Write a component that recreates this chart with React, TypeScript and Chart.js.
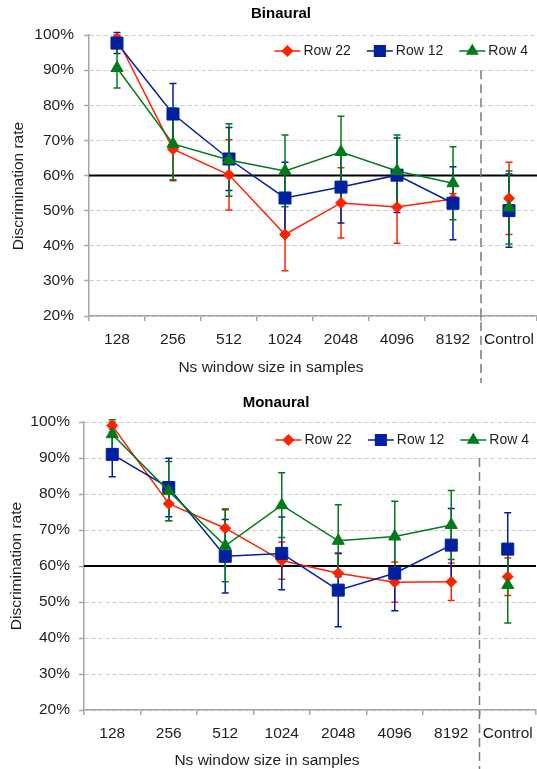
import React, { useEffect, useRef } from 'react';
import { Chart, registerables } from 'chart.js';
import { drawPoint } from 'chart.js/helpers';

Chart.register(...registerables);

// ---------- data ----------
const categories = ['128', '256', '512', '1024', '2048', '4096', '8192', 'Control'];
const seriesLabels = ['Row 22', 'Row 12', 'Row 4'];
const xAxisTitle = 'Ns window size in samples';
const yAxisTitle = 'Discrimination rate';

const binauralRow22 = [99, 67.5, 60.2, 43.2, 52.2, 51.0, 53.3, 53.5];
const binauralRow22Err = [1, 9, 10, 10.3, 10, 10.3, 1.5, 10.3];
const binauralRow12 = [97.7, 77.5, 64.7, 53.6, 56.7, 60.1, 52.1, 50.0];
const binauralRow12Err = [3, 8.7, 9, 10.2, 10.2, 10.6, 10.4, 10.4];
const binauralRow4 = [90.6, 69.0, 64.4, 61.3, 66.7, 61.3, 57.8, 50.9];
const binauralRow4Err = [5.7, 10.2, 10.3, 10.2, 10.2, 10.2, 10.4, 10.4];

const monauralRow22 = [99, 77.3, 70.5, 61.5, 58.0, 55.5, 55.6, 57.0];
const monauralRow22Err = [1, 4.7, 5.4, 5.2, 5.6, 5.6, 5.2, 5.2];
const monauralRow12 = [91, 81.8, 62.7, 63.5, 53.3, 58.0, 65.8, 64.7];
const monauralRow12Err = [6.2, 8.1, 10.2, 10.1, 10.2, 10.4, 10.2, 10.1];
const monauralRow4 = [96.6, 80.8, 65.6, 76.9, 67.0, 68.2, 71.4, 54.7];
const monauralRow4Err = [4, 8.2, 10, 9, 10, 9.8, 9.6, 10.5];

const yMin = 20;
const yMax = 100;
const yStep = 10;
const referenceLevel = 60;
const separatorTop = 90;

// ---------- styles ----------
const FONT = '"Liberation Sans", Arial, Helvetica, sans-serif';
const RED = '#ff2200';
const BLUE = '#0020a0';
const GREEN = '#007a1a';
const AXIS_GREY = '#a6a6a6';
const GRID_GREY = '#cccccc';
const TEXT = '#1e1e1e';

const seriesStyles = [
  { color: RED, pointStyle: 'rectRot', radius: 5.5, legendRadius: 5 },
  { color: BLUE, pointStyle: 'rect', radius: 8.5, legendRadius: 7.5 },
  { color: GREEN, pointStyle: 'triangle', radius: 7, legendRadius: 6 },
];

Chart.defaults.font.family = FONT;
Chart.defaults.color = TEXT;

type PanelCfg = {
  title: string;
  height: number;
  rows: number[][];
  errs: number[][];
  topPad: number;
  yWidth: number;
  yTickPad: number;
  xHeight: number;
  xTickPad: number;
  rightPad: number;
  legendDy: number;
  legendRightInset: number;
  sepBottomInset: number;
  titlePos: [number, number];
  xTitlePos: [number, number];
  yTitlePos: [number, number];
};

const panels: PanelCfg[] = [
  {
    title: 'Binaural',
    height: 388,
    rows: [binauralRow22, binauralRow12, binauralRow4],
    errs: [binauralRow22Err, binauralRow12Err, binauralRow4Err],
    topPad: 35,
    yWidth: 89,
    yTickPad: 10,
    xHeight: 72,
    xTickPad: 9,
    rightPad: 0,
    legendDy: 16,
    legendRightInset: 9,
    sepBottomInset: 5,
    titlePos: [281, 14],
    xTitlePos: [271, 368],
    yTitlePos: [19, 186],
  },
  {
    title: 'Monaural',
    height: 381,
    rows: [monauralRow22, monauralRow12, monauralRow4],
    errs: [monauralRow22Err, monauralRow12Err, monauralRow4Err],
    topPad: 34,
    yWidth: 84,
    yTickPad: 9,
    xHeight: 59,
    xTickPad: 9,
    rightPad: 1,
    legendDy: 18,
    legendRightInset: 7,
    sepBottomInset: 0,
    titlePos: [276, 15],
    xTitlePos: [267, 373],
    yTitlePos: [17, 178],
  },
];

const decorPlugin = {
  id: 'decor',
  beforeDatasetsDraw(chart: any, _args: any, opts: any) {
    const { ctx, chartArea } = chart;
    const y = chart.scales.y;
    // reference line
    ctx.save();
    ctx.strokeStyle = '#000';
    ctx.lineWidth = 2;
    const ry = y.getPixelForValue(referenceLevel);
    ctx.beginPath();
    ctx.moveTo(chartArea.left, ry);
    ctx.lineTo(chartArea.right, ry);
    ctx.stroke();
    // error bars
    ctx.lineWidth = 1.5;
    for (let i = 0; i < chart.data.datasets.length; i++) {
      const ds = chart.data.datasets[i];
      const meta = chart.getDatasetMeta(i);
      const errs: number[] = opts.errs[i];
      ctx.strokeStyle = ds.borderColor;
      meta.data.forEach((pt: any, j: number) => {
        const v = ds.data[j];
        const e = errs[j];
        const yt = y.getPixelForValue(v + e);
        const yb = y.getPixelForValue(v - e);
        const x = pt.x;
        ctx.beginPath();
        ctx.moveTo(x, yt);
        ctx.lineTo(x, yb);
        ctx.moveTo(x - 3.5, yt);
        ctx.lineTo(x + 3.5, yt);
        ctx.moveTo(x - 3.5, yb);
        ctx.lineTo(x + 3.5, yb);
        ctx.stroke();
      });
    }
    ctx.restore();
  },
  afterDraw(chart: any, _args: any, opts: any) {
    const { ctx, chartArea } = chart;
    const x = chart.scales.x;
    const y = chart.scales.y;
    // separator
    const n = categories.length;
    const sx = (x.getPixelForValue(n - 2) + x.getPixelForValue(n - 1)) / 2;
    ctx.save();
    ctx.strokeStyle = '#7a7a7a';
    ctx.lineWidth = 1.5;
    ctx.setLineDash([9, 5]);
    ctx.beginPath();
    ctx.moveTo(sx, y.getPixelForValue(separatorTop));
    ctx.lineTo(sx, chart.height - opts.sepBottomInset);
    ctx.stroke();
    ctx.setLineDash([]);

    // titles
    ctx.textBaseline = 'middle';
    ctx.textAlign = 'center';
    ctx.fillStyle = '#000';
    ctx.font = 'bold 15px ' + FONT;
    ctx.fillText(opts.title, opts.titlePos[0], opts.titlePos[1]);
    ctx.fillStyle = TEXT;
    ctx.font = '15.5px ' + FONT;
    ctx.fillText(xAxisTitle, opts.xTitlePos[0], opts.xTitlePos[1]);
    ctx.save();
    ctx.translate(opts.yTitlePos[0], opts.yTitlePos[1]);
    ctx.rotate(-Math.PI / 2);
    ctx.fillText(yAxisTitle, 0, 0);
    ctx.restore();

    // legend
    ctx.font = '14px ' + FONT;
    ctx.textBaseline = 'middle';
    ctx.textAlign = 'left';
    const lineLen = 26;
    const gap = 3;
    const itemGap = 16;
    const widths = seriesLabels.map((l) => ctx.measureText(l).width);
    const total = widths.reduce((a, b) => a + b, 0) + seriesLabels.length * (lineLen + gap) + (seriesLabels.length - 1) * itemGap;
    let cx = chartArea.right - opts.legendRightInset - total;
    const cy = chartArea.top + opts.legendDy;
    seriesLabels.forEach((label, i) => {
      const st = seriesStyles[i];
      ctx.strokeStyle = st.color;
      ctx.lineWidth = 1.5;
      ctx.beginPath();
      ctx.moveTo(cx, cy);
      ctx.lineTo(cx + lineLen, cy);
      ctx.stroke();
      ctx.fillStyle = st.color;
      drawPoint(ctx, { pointStyle: st.pointStyle, radius: st.legendRadius, borderWidth: 1, rotation: 0 } as any, cx + lineLen / 2, cy);
      ctx.fill();
      ctx.fillStyle = TEXT;
      ctx.fillText(label, cx + lineLen + gap, cy);
      cx += lineLen + gap + widths[i] + itemGap;
    });
    ctx.restore();
  },
};

function Panel({ cfg }: { cfg: PanelCfg }) {
  const ref = useRef<HTMLCanvasElement>(null);
  useEffect(() => {
    const canvas = ref.current;
    if (!canvas) return;
    const lastIdx = categories.length - 1;
    const chart = new Chart(canvas, {
      type: 'line',
      data: {
        labels: categories,
        datasets: cfg.rows.map((data, i) => ({
          label: seriesLabels[i],
          data,
          borderColor: seriesStyles[i].color,
          backgroundColor: seriesStyles[i].color,
          pointBackgroundColor: seriesStyles[i].color,
          pointBorderColor: seriesStyles[i].color,
          pointStyle: seriesStyles[i].pointStyle as any,
          pointRadius: seriesStyles[i].radius,
          pointBorderWidth: 1,
          borderWidth: 1.5,
          fill: false,
          tension: 0,
          order: 3 - i,
          clip: false,
          segment: {
            borderColor: (c: any) => (c.p1DataIndex === lastIdx ? 'rgba(0,0,0,0)' : undefined),
          },
        })),
      },
      options: {
        responsive: false,
        animation: false,
        devicePixelRatio: 1,
        layout: { autoPadding: false, padding: { top: cfg.topPad, left: 0, right: cfg.rightPad, bottom: 0 } },
        plugins: {
          legend: { display: false },
          tooltip: { enabled: false },
          title: { display: false },
          decor: {
            errs: cfg.errs,
            title: cfg.title,
            titlePos: cfg.titlePos,
            xTitlePos: cfg.xTitlePos,
            yTitlePos: cfg.yTitlePos,
            legendDy: cfg.legendDy,
            legendRightInset: cfg.legendRightInset,
            sepBottomInset: cfg.sepBottomInset,
          },
        } as any,
        scales: {
          x: {
            type: 'category',
            offset: true,
            grid: {
              offset: true,
              drawOnChartArea: false,
              drawTicks: true,
              tickLength: 5,
              color: AXIS_GREY,
              lineWidth: 1.5,
            },
            border: { display: true, color: AXIS_GREY, width: 1.5 },
            ticks: { font: { size: 15.5, family: FONT }, color: TEXT, padding: cfg.xTickPad, maxRotation: 0, autoSkip: false },
            title: { display: false },
            afterFit: (s: any) => {
              s.height = cfg.xHeight;
              s.paddingLeft = 0;
              s.paddingRight = 0;
            },
          },
          y: {
            min: yMin,
            max: yMax,
            grid: {
              color: GRID_GREY,
              lineWidth: 1,
              drawTicks: true,
              tickLength: 5,
              tickColor: AXIS_GREY,
              tickWidth: 1.5,
              tickBorderDash: [],
            },
            border: { display: true, color: AXIS_GREY, width: 1.5, dash: [4, 3] },
            ticks: {
              stepSize: yStep,
              font: { size: 15.5, family: FONT },
              color: TEXT,
              padding: cfg.yTickPad,
              callback: (v: any) => `${v}%`,
            },
            title: { display: false },
            afterFit: (s: any) => {
              s.width = cfg.yWidth;
            },
          },
        },
      } as any,
      plugins: [decorPlugin],
    });
    return () => chart.destroy();
  }, [cfg]);
  return (
    <canvas
      ref={ref}
      width={537}
      height={cfg.height}
      style={{ display: 'block', width: 537, height: cfg.height }}
    />
  );
}

export default function App() {
  return (
    <div style={{ position: 'absolute', left: 0, top: 0, width: 537, height: 769, background: '#fff' }}>
      {panels.map((p) => (
        <Panel key={p.title} cfg={p} />
      ))}
    </div>
  );
}
